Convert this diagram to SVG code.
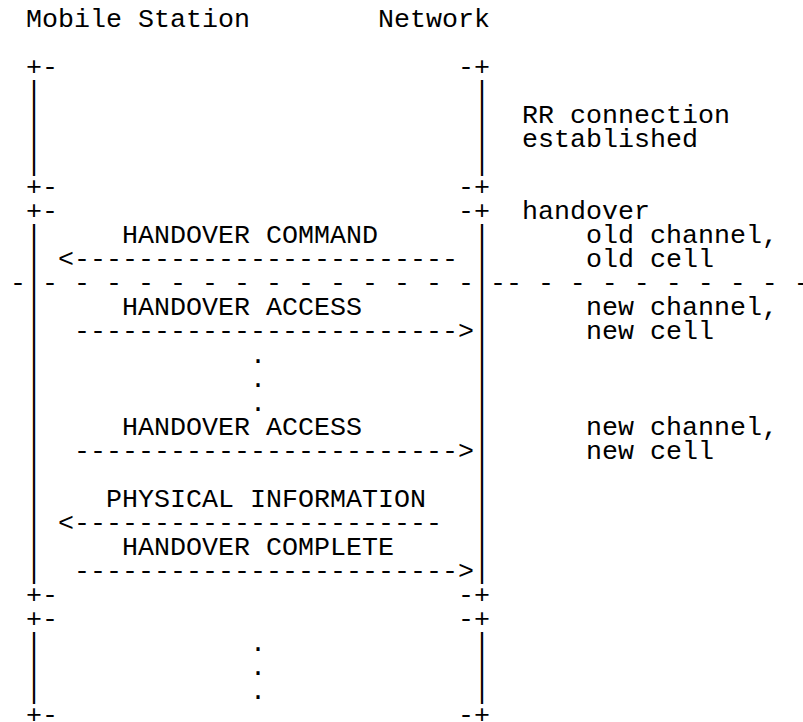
<svg xmlns="http://www.w3.org/2000/svg" width="803" height="722" viewBox="0 0 803 722">
<style>
text { font-family: "Liberation Mono", "Courier New", monospace; font-size: 26.667px; fill: #000; white-space: pre; }
</style>
<rect width="803" height="722" fill="#fff"/>
<g id="header">
<text x="26" y="27">Mobile Station</text>
<text x="378" y="27">Network</text>
</g>
<g id="phase-rr-connection">
<text x="26" y="75">+-</text><text x="458" y="75">-+</text>
<text x="26" y="99">|</text><text x="474" y="99">|</text>
<text x="26" y="123">|</text><text x="474" y="123">|</text>
<text x="26" y="147">|</text><text x="474" y="147">|</text>
<text x="26" y="171">|</text><text x="474" y="171">|</text>
<text x="26" y="195">+-</text><text x="458" y="195">-+</text>
<text x="522" y="123">RR connection</text>
<text x="522" y="147">established</text>
</g>
<g id="phase-handover">
<text x="26" y="219">+-</text><text x="458" y="219">-+</text>
<text x="522" y="219">handover</text>
<text x="26" y="243">|</text><text x="474" y="243">|</text>
<text x="26" y="267">|</text><text x="474" y="267">|</text>
<text x="26" y="315">|</text><text x="474" y="315">|</text>
<text x="26" y="339">|</text><text x="474" y="339">|</text>
<text x="26" y="363">|</text><text x="474" y="363">|</text>
<text x="26" y="387">|</text><text x="474" y="387">|</text>
<text x="26" y="411">|</text><text x="474" y="411">|</text>
<text x="26" y="435">|</text><text x="474" y="435">|</text>
<text x="26" y="459">|</text><text x="474" y="459">|</text>
<text x="26" y="483">|</text><text x="474" y="483">|</text>
<text x="26" y="507">|</text><text x="474" y="507">|</text>
<text x="26" y="531">|</text><text x="474" y="531">|</text>
<text x="26" y="555">|</text><text x="474" y="555">|</text>
<text x="26" y="579">|</text><text x="474" y="579">|</text>
<text x="26" y="603">+-</text><text x="458" y="603">-+</text>
<text x="586" y="243">old channel,</text>
<text x="586" y="267">old cell</text>
<text x="586" y="315">new channel,</text>
<text x="586" y="339">new cell</text>
<text x="586" y="435">new channel,</text>
<text x="586" y="459">new cell</text>
</g>
<g id="divider">
<text x="10" y="291">-|- - - - - - - - - - - - - -|-- - - - - - - - - -</text>
</g>
<g id="connectors">
<text x="122" y="243">HANDOVER COMMAND</text>
<text x="58" y="267">&lt;------------------------</text>
<text x="122" y="315">HANDOVER ACCESS</text>
<text x="74" y="339">------------------------&gt;</text>
<text x="250" y="363">.</text>
<text x="250" y="387">.</text>
<text x="250" y="411">.</text>
<text x="122" y="435">HANDOVER ACCESS</text>
<text x="74" y="459">------------------------&gt;</text>
<text x="106" y="507">PHYSICAL INFORMATION</text>
<text x="58" y="531">&lt;-----------------------</text>
<text x="122" y="555">HANDOVER COMPLETE</text>
<text x="74" y="579">------------------------&gt;</text>
</g>
<g id="phase-after">
<text x="26" y="627">+-</text><text x="458" y="627">-+</text>
<text x="26" y="651">|</text><text x="474" y="651">|</text>
<text x="26" y="675">|</text><text x="474" y="675">|</text>
<text x="26" y="699">|</text><text x="474" y="699">|</text>
<text x="26" y="723">+-</text><text x="458" y="723">-+</text>
<text x="250" y="651">.</text>
<text x="250" y="675">.</text>
<text x="250" y="699">.</text>
</g>
</svg>
